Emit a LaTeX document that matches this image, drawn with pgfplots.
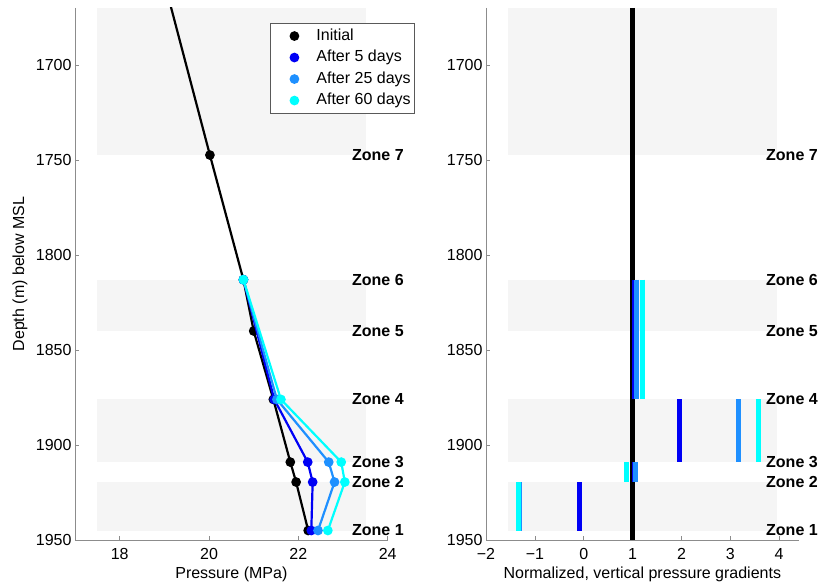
\documentclass[border=0pt]{standalone}
\usepackage{pgfplots}
\pgfplotsset{compat=1.18}
\usepackage{fontspec}
\setmainfont{Liberation Sans}
\definecolor{band}{RGB}{245,245,245}
\definecolor{axgray}{RGB}{140,140,140}
\definecolor{c5}{RGB}{0,0,245}
\definecolor{c25}{RGB}{30,144,255}
\definecolor{c60}{RGB}{0,255,255}
\newcommand{\fs}{\fontsize{16bp}{19bp}\selectfont}
\tikzset{zone/.style={anchor=west, inner sep=0pt, font=\fs\bfseries}}
\pgfplotsset{
  myaxis/.style={
    scale only axis, width=312.7bp, height=532bp,
    y dir=reverse, ymin=1670, ymax=1950,
    ytick={1700,1750,1800,1850,1900,1950},
    yticklabels={1700,1750,1800,1850,1900,1950},
    axis line style={draw=none},
    tick style={axgray, line width=0.7bp},
    major tick length=4bp,
    tick align=inside,
    xtick pos=bottom, ytick pos=left,
    font=\fs,
    tick label style={font=\fs},
    x tick label style={yshift=-5bp},
    clip mode=individual,
    /pgf/number format/assume math mode=true,
  },
}
\begin{document}
\begin{tikzpicture}[x=1bp,y=1bp]
\path (0,0) rectangle (818,586);
% ---------- left axis ----------
\begin{axis}[myaxis, at={(75bp,46bp)}, anchor=south west,
  xmin=17, xmax=24, xtick={18,20,22,24}, xticklabels={18,20,22,24},
  xlabel={Pressure (MPa)}, ylabel={Depth (m) below MSL},
  xlabel style={at={(axis description cs:0.5,-0.064)}, anchor=center},
  ylabel style={at={(axis description cs:-0.176,0.5)}, anchor=center},
  legend cell align=left,
  legend image code/.code={\path[draw=none,fill=none] (0bp,-6bp) rectangle (38bp,6bp); \draw[#1, only marks] plot coordinates {(20bp,0bp)};},
  legend style={at={(axis description cs:1.0873,0.9718)}, anchor=north east,
    draw=gray!70!black, line width=0.6bp, inner xsep=4bp, inner ysep=5bp,
    row sep=6bp, column sep=4bp, font=\fs,
    nodes={inner sep=0bp, text height=12bp, text depth=3.5bp}},
]
\addplot[fill=band, draw=none, forget plot] coordinates {(17.49,1670) (23.51,1670) (23.51,1747.4) (17.49,1747.4)};
\addplot[fill=band, draw=none, forget plot] coordinates {(17.49,1813) (23.51,1813) (23.51,1840) (17.49,1840)};
\addplot[fill=band, draw=none, forget plot] coordinates {(17.49,1876) (23.51,1876) (23.51,1909) (17.49,1909)};
\addplot[fill=band, draw=none, forget plot] coordinates {(17.49,1919.5) (23.51,1919.5) (23.51,1945) (17.49,1945)};
\addplot[black, line width=2.2bp, forget plot] coordinates {(18.93,1650) (20.02,1747.4)};
\addplot[black, line width=2.2bp, mark=*, mark size=3.7bp] coordinates {
 (20.02,1747.4) (20.77,1813) (21.0,1840) (21.44,1876) (21.82,1909) (21.95,1919.5) (22.22,1945)};
\addlegendentry{Initial}
\addplot[c5, line width=2.2bp, mark=*, mark size=3.7bp] coordinates {
 (20.77,1813) (21.46,1876) (22.21,1909) (22.32,1919.5) (22.29,1945)};
\addlegendentry{After 5 days}
\addplot[c25, line width=2.2bp, mark=*, mark size=3.7bp] coordinates {
 (20.77,1813) (21.52,1876) (22.68,1909) (22.81,1919.5) (22.44,1945)};
\addlegendentry{After 25 days}
\addplot[c60, line width=2.2bp, mark=*, mark size=3.7bp] coordinates {
 (20.77,1813) (21.61,1876) (22.96,1909) (23.04,1919.5) (22.66,1945)};
\addlegendentry{After 60 days}
\draw[axgray, line width=0.8bp] (axis cs:17,1670) -- (axis cs:17,1950) -- (axis cs:24,1950);
\node[zone] at (axis cs:23.2,1747.4) {Zone 7};
\node[zone] at (axis cs:23.2,1813) {Zone 6};
\node[zone] at (axis cs:23.2,1840) {Zone 5};
\node[zone] at (axis cs:23.2,1876) {Zone 4};
\node[zone] at (axis cs:23.2,1909) {Zone 3};
\node[zone] at (axis cs:23.2,1919.5) {Zone 2};
\node[zone] at (axis cs:23.2,1945) {Zone 1};
\end{axis}
% ---------- right axis ----------
\begin{axis}[myaxis, at={(486bp,46bp)}, anchor=south west,
  xmin=-2, xmax=4.4, xtick={-2,-1,0,1,2,3,4}, xticklabels={−2,−1,0,1,2,3,4},
  xlabel={Normalized, vertical pressure gradients},
  xlabel style={at={(axis description cs:0.5,-0.064)}, anchor=center},
]
\addplot[fill=band, draw=none] coordinates {(-1.552,1670) (3.952,1670) (3.952,1747.4) (-1.552,1747.4)};
\addplot[fill=band, draw=none] coordinates {(-1.552,1813) (3.952,1813) (3.952,1840) (-1.552,1840)};
\addplot[fill=band, draw=none] coordinates {(-1.552,1876) (3.952,1876) (3.952,1909) (-1.552,1909)};
\addplot[fill=band, draw=none] coordinates {(-1.552,1919.5) (3.952,1919.5) (3.952,1945) (-1.552,1945)};
\addplot[black, line width=5bp] coordinates {(1,1670) (1,1950)};
% after 5 days
\addplot[c5, line width=5bp] coordinates {(1.04,1813) (1.04,1876)};
\addplot[c5, line width=5bp] coordinates {(1.97,1876) (1.97,1909)};
\addplot[c5, line width=5bp] coordinates {(1.03,1909) (1.03,1919.5)};
\addplot[c5, line width=5bp] coordinates {(-0.09,1919.5) (-0.09,1945)};
% after 25 days
\addplot[c25, line width=5bp] coordinates {(1.09,1813) (1.09,1876)};
\addplot[c25, line width=5bp] coordinates {(3.16,1876) (3.16,1909)};
\addplot[c25, line width=5bp] coordinates {(1.05,1909) (1.05,1919.5)};
\addplot[c25, line width=5bp] coordinates {(-1.32,1919.5) (-1.32,1945)};
% after 60 days
\addplot[c60, line width=5bp] coordinates {(1.21,1813) (1.21,1876)};
\addplot[c60, line width=5bp] coordinates {(3.57,1876) (3.57,1909)};
\addplot[c60, line width=5bp] coordinates {(0.88,1909) (0.88,1919.5)};
\addplot[c60, line width=5bp] coordinates {(-1.33,1919.5) (-1.33,1945)};
\draw[axgray, line width=0.8bp] (axis cs:-2,1670) -- (axis cs:-2,1950) -- (axis cs:4.4,1950);
\node[zone] at (axis cs:3.73,1747.4) {Zone 7};
\node[zone] at (axis cs:3.73,1813) {Zone 6};
\node[zone] at (axis cs:3.73,1840) {Zone 5};
\node[zone] at (axis cs:3.73,1876) {Zone 4};
\node[zone] at (axis cs:3.73,1909) {Zone 3};
\node[zone] at (axis cs:3.73,1919.5) {Zone 2};
\node[zone] at (axis cs:3.73,1945) {Zone 1};
\end{axis}
\end{tikzpicture}
\end{document}
